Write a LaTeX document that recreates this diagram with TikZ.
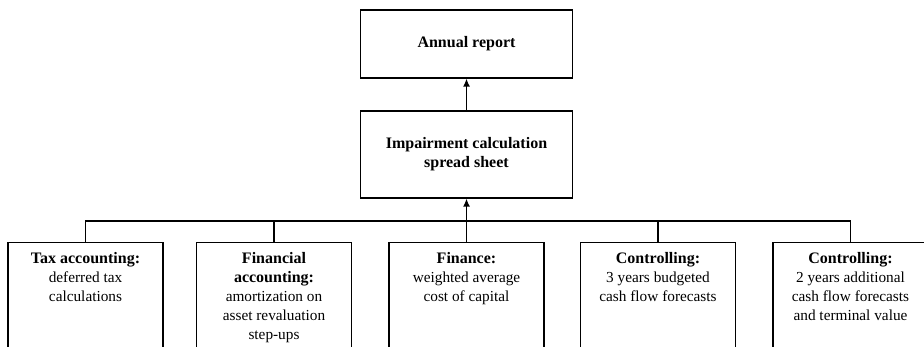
\documentclass[tikz,border=0pt]{standalone}
\usepackage{fontspec}
\setmainfont{Liberation Serif}
\usetikzlibrary{arrows.meta}
\newcommand{\hd}[1]{{\fontsize{16}{19}\selectfont\textbf{#1}}}
\begin{document}
\begin{tikzpicture}[x=1pt,y=-1pt,
  box/.style={draw,line width=1.3pt,inner sep=0pt},
  txt/.style={align=center,inner sep=0pt,font=\fontsize{15.3}{19}\selectfont},
  ln/.style={line width=1.3pt},
  arr/.style={line width=1.3pt,-{Latex[length=8pt,width=7pt]}}]
\useasboundingbox (0,0) rectangle (924,347);
\clip (0,0) rectangle (924,347);
\node[box,minimum width=212pt,minimum height=68pt] (ar) at (466.5,44) {};
\node[txt] (art) at (ar.center) {\hd{Annual report}};
\node[box,minimum width=212pt,minimum height=87pt] (imp) at (466.5,154.5) {};
\node[txt] (impt) at (imp.center) {\hd{Impairment calculation}\\\hd{spread sheet}};
\foreach \i/\x in {1/85.5,2/274,3/466.5,4/658,5/850.5}{
  \node[box,minimum width=155pt,minimum height=130pt,anchor=north] (b\i) at (\x,242) {};
}
\node[txt,anchor=north] (t1) at ([yshift=-10pt]b1.north) {\hd{Tax accounting:}\\deferred tax\\calculations};
\node[txt,anchor=north] (t2) at ([yshift=-10pt]b2.north) {\hd{Financial}\\\hd{accounting:}\\amortization on\\asset revaluation\\step-ups};
\node[txt,anchor=north] (t3) at ([yshift=-10pt]b3.north) {\hd{Finance:}\\weighted average\\cost of capital};
\node[txt,anchor=north] (t4) at ([yshift=-10pt]b4.north) {\hd{Controlling:}\\3 years budgeted\\cash flow forecasts};
\node[txt,anchor=north] (t5) at ([yshift=-10pt]b5.north) {\hd{Controlling:}\\2 years additional\\cash flow forecasts\\and terminal value};
\coordinate (bus) at (0,221);
\draw[arr] (imp.north) -- (ar.south);
\draw[arr] (b3.north) -- (imp.south);
\draw[ln] (b1.north) -- (b1.north |- bus) -- (b5.north |- bus) -- (b5.north);
\draw[ln] (b2.north) -- (b2.north |- bus);
\draw[ln] (b4.north) -- (b4.north |- bus);
\end{tikzpicture}
\end{document}
